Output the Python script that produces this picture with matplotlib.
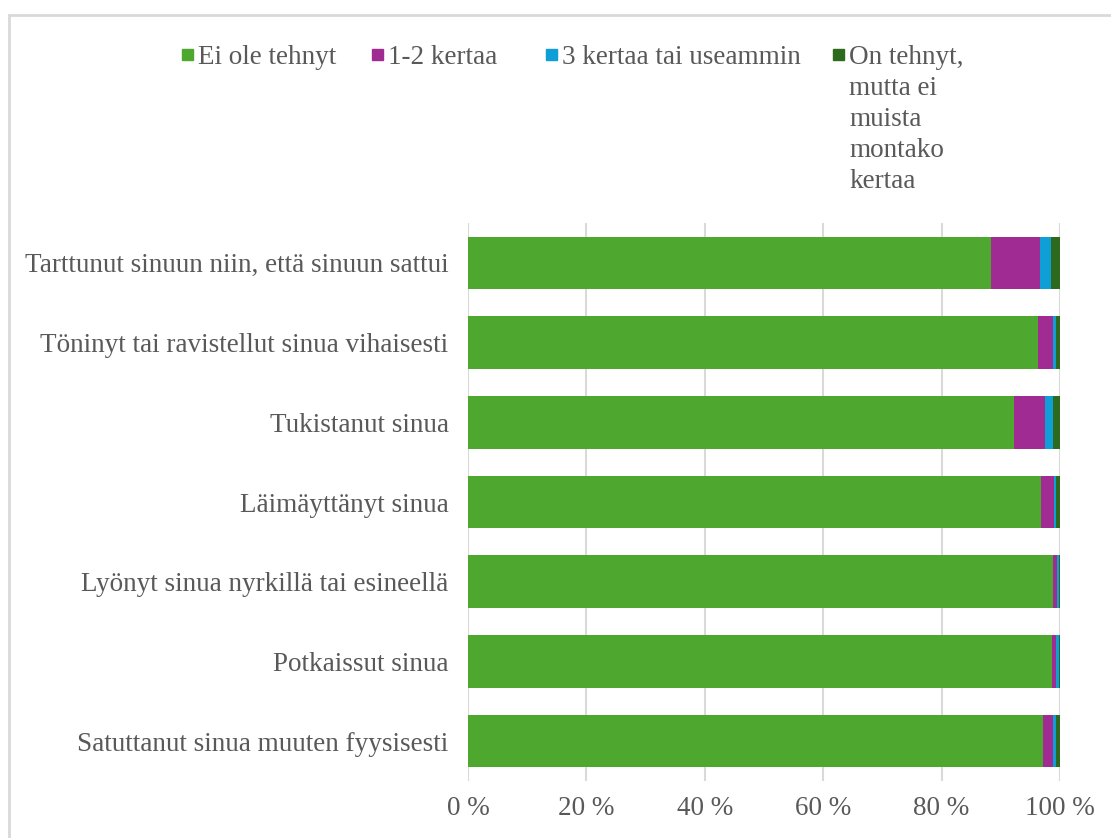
import matplotlib.pyplot as plt
from matplotlib.patches import Rectangle
import numpy as np

plt.rcParams['font.family'] = 'Liberation Serif'

questions = [
    'Tarttunut sinuun niin, että sinuun sattui',
    'Töninyt tai ravistellut sinua vihaisesti',
    'Tukistanut sinua',
    'Läimäyttänyt sinua',
    'Lyönyt sinua nyrkillä tai esineellä',
    'Potkaissut sinua',
    'Satuttanut sinua muuten fyysisesti',
]
series_names = ['Ei ole tehnyt', '1-2 kertaa', '3 kertaa tai useammin',
                'On tehnyt,\nmutta ei\nmuista\nmontako\nkertaa']
ei_ole = [88.4, 96.2, 92.3, 96.8, 98.8, 98.6, 97.1]
kerta_1_2 = [8.2, 2.6, 5.2, 2.2, 0.7, 0.8, 1.7]
kerta_3 = [1.8, 0.6, 1.3, 0.4, 0.4, 0.5, 0.6]
ei_muista = [1.6, 0.6, 1.2, 0.6, 0.1, 0.1, 0.6]
colors = ['#4ea72e', '#a02b93', '#0f9ed5', '#2e6a1e']
text_col = '#595959'
fs = 19.5

fig = plt.figure(figsize=(11.11, 8.38), dpi=100)
ax = fig.add_axes([468 / 1111, 1 - 781 / 838, (1060 - 468) / 1111, (781 - 223) / 838])

y = np.arange(len(questions))
left = np.zeros(len(questions))
for vals, c in zip([ei_ole, kerta_1_2, kerta_3, ei_muista], colors):
    ax.barh(y, vals, left=left, height=0.66, color=c, zorder=3)
    left += np.array(vals)

ax.set_xlim(0, 100)
ax.set_ylim(len(questions) - 0.5, -0.5)
ax.set_yticks(y)
ax.set_yticklabels(questions, fontsize=fs, color=text_col)
ax.set_xticks(range(0, 101, 20))
ax.set_xticklabels([f'{v} %' for v in range(0, 101, 20)], fontsize=fs, color=text_col)
ax.tick_params(axis='y', length=0, pad=14)
ax.tick_params(axis='x', length=0, pad=11)
ax.grid(axis='x', color='#d9d9d9', linewidth=1.5, zorder=0)
for s in ax.spines.values():
    s.set_visible(False)

# legend drawn by hand so the marker sits on the first text line
leg_x = [182, 372, 546, 833]
for name, c, lx in zip(series_names, colors, leg_x):
    fig.patches.append(Rectangle((lx / 1111, 1 - 60 / 838), 11 / 1111, 11 / 838,
                                 transform=fig.transFigure, color=c))
    fig.text((lx + 16) / 1111, 1 - 45 / 838, name, fontsize=fs, color=text_col,
             va='top', ha='left', linespacing=1.32)

# chart frame
fig.patches.append(Rectangle((9 / 1111, -0.05), 1.2, 1 - 15 / 838 + 0.05,
                             transform=fig.transFigure, fill=False,
                             edgecolor='#d9d9d9', linewidth=2))

fig.savefig('out.png', dpi=100)
